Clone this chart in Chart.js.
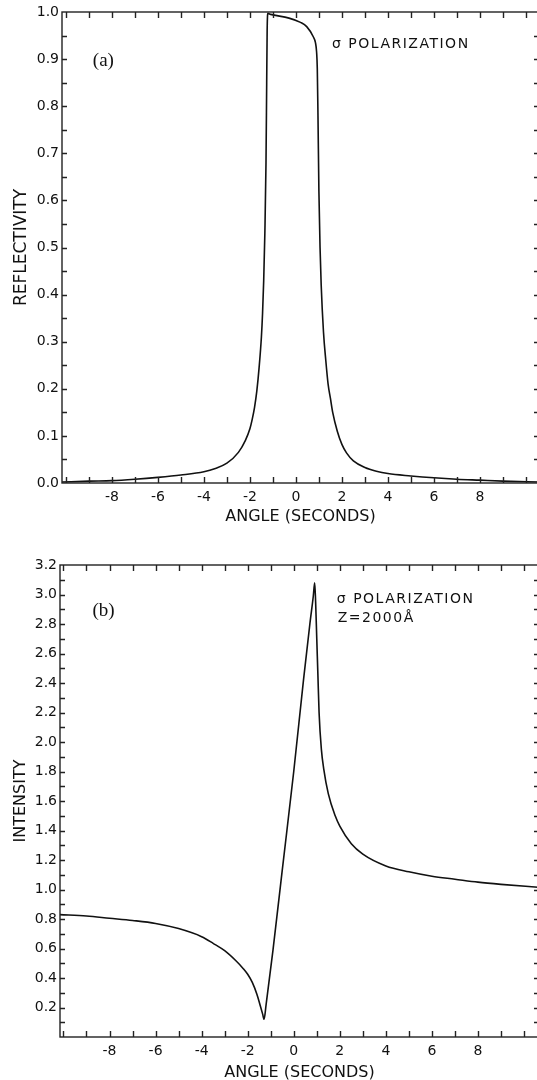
<!DOCTYPE html>
<html><head><meta charset="utf-8">
<script src="https://cdn.jsdelivr.net/npm/chart.js@4/dist/chart.umd.min.js"></script>
<style>
html,body{margin:0;padding:0;background:#fff;overflow:hidden;width:537px;height:1080px;}
#wrap{position:relative;width:537px;height:1080px;overflow:hidden;background:#fff;}
canvas{position:absolute;left:0;}
#ca{top:0;}
#cb{top:548px;}
</style></head><body>
<div id="wrap"><canvas id="ca" width="545" height="540"></canvas><canvas id="cb" width="545" height="560"></canvas></div>
<script>
// ---- data (a): reflectivity vs angle ----
const angleA=[-10.17,-9,-8,-7,-6,-5,-4,-3.5,-3,-2.5,-2.2,-2,-1.9,-1.8,-1.7,-1.6,-1.5,-1.45,-1.4,-1.35,-1.3,-1.27,-1.25,-1.22,-1.1,-0.3,0.2,0.47,0.75,0.85,0.9,0.93,0.96,1.0,1.05,1.1,1.2,1.3,1.4,1.5,1.6,1.8,2.0,2.2,2.5,3,3.5,4,5,6,7,8,9,10.57];
const reflA=[0.002,0.004,0.005,0.008,0.012,0.017,0.024,0.031,0.042,0.065,0.09,0.115,0.135,0.16,0.195,0.245,0.31,0.36,0.43,0.53,0.68,0.85,0.96,0.997,0.995,0.987,0.978,0.969,0.948,0.935,0.915,0.88,0.78,0.62,0.5,0.42,0.32,0.26,0.21,0.18,0.15,0.11,0.082,0.064,0.047,0.033,0.025,0.02,0.015,0.011,0.008,0.006,0.004,0.002];
// ---- data (b): intensity vs angle ----
const angleB=[-10.15,-9,-8,-7,-6,-5,-4,-3.5,-3,-2.5,-2.2,-2,-1.8,-1.6,-1.45,-1.35,-1.29,-1.2,-0.9,-0.5,0,0.43,0.7,0.85,0.91,0.95,1.0,1.05,1.1,1.2,1.3,1.5,1.8,2,2.5,3,4,5,6,7,8,9,10.6];
const intensB=[0.83,0.82,0.805,0.79,0.77,0.735,0.68,0.635,0.585,0.515,0.465,0.425,0.37,0.29,0.21,0.155,0.12,0.22,0.59,1.13,1.8,2.43,2.8,2.99,3.08,2.95,2.7,2.45,2.2,1.95,1.82,1.65,1.5,1.43,1.31,1.24,1.16,1.12,1.09,1.07,1.05,1.035,1.015];
// ---- tick labels ----
const xTickLabels=[-8,-6,-4,-2,0,2,4,6,8];
const yTicksA=[0,0.1,0.2,0.3,0.4,0.5,0.6,0.7,0.8,0.9,1.0];
const yTicksB=[0.2,0.4,0.6,0.8,1.0,1.2,1.4,1.6,1.8,2.0,2.2,2.4,2.6,2.8,3.0,3.2];

const INK='#111';
const FAM='"DejaVu Sans", sans-serif';

const framePlugin={id:'frame',afterDatasetsDraw(chart,args,opts){
  const {ctx,chartArea:a,scales:{x,y}}=chart;
  ctx.save();
  ctx.strokeStyle='#222';ctx.lineWidth=1.4;
  ctx.strokeRect(a.left,a.top,a.right-a.left,a.bottom-a.top);
  ctx.beginPath();
  for(let v=Math.ceil(x.min);v<=Math.floor(x.max);v++){
    const px=Math.round(x.getPixelForValue(v))+0.5;
    ctx.moveTo(px,a.bottom);ctx.lineTo(px,a.bottom-6);
    ctx.moveTo(px,a.top);ctx.lineTo(px,a.top+6);
  }
  const n=Math.round((y.max-y.min)/opts.minor);
  for(let i=1;i<n;i++){
    const py=Math.round(y.getPixelForValue(y.min+i*opts.minor))+0.5;
    ctx.moveTo(a.left,py);ctx.lineTo(a.left+5,py);
    ctx.moveTo(a.right,py);ctx.lineTo(a.right-5,py);
  }
  ctx.stroke();
  ctx.fillStyle=INK;ctx.textBaseline='middle';ctx.textAlign='left';
  (opts.texts||[]).forEach(t=>{
    ctx.font=t.font;ctx.letterSpacing=t.ls||'0px';
    ctx.fillText(t.text,x.getPixelForValue(t.x),y.getPixelForValue(t.y));
  });
  ctx.restore();
}};

function makeChart(id,xs,ys,cfg){
  return new Chart(document.getElementById(id),{
    type:'scatter',
    data:{datasets:[{data:xs.map((v,i)=>({x:v,y:ys[i]})),showLine:true,borderColor:INK,borderWidth:1.6,pointRadius:0,cubicInterpolationMode:'monotone',fill:false}]},
    options:{
      responsive:false,animation:false,devicePixelRatio:1,
      layout:{padding:{top:cfg.padTop,right:6,left:0,bottom:0}},
      plugins:{legend:{display:false},tooltip:{enabled:false},frame:{minor:cfg.minor,texts:cfg.texts}},
      scales:{
        x:{type:'linear',min:cfg.xmin,max:cfg.xmax,
          afterBuildTicks:s=>{s.ticks=xTickLabels.map(v=>({value:v}));},
          afterFit:s=>{s.height=cfg.xh;},
          grid:{display:false,drawTicks:false},border:{display:false},
          ticks:{padding:6,color:INK,autoSkip:false,maxRotation:0,font:{family:FAM,size:14},callback:v=>String(v)},
          title:{display:true,text:'ANGLE (SECONDS)',color:INK,font:{family:FAM,size:16},padding:{top:0,bottom:cfg.xtpad}}},
        y:{type:'linear',min:cfg.ymin,max:cfg.ymax,
          afterBuildTicks:s=>{s.ticks=cfg.yticks.map(v=>({value:v}));},
          afterFit:s=>{s.width=cfg.yw;},
          grid:{display:false,drawTicks:false},border:{display:false},
          ticks:{padding:3,color:INK,autoSkip:false,font:{family:FAM,size:14},callback:v=>v.toFixed(1)},
          title:{display:true,text:cfg.ytitle,color:INK,font:{family:FAM,size:cfg.ytsize},padding:{top:11,bottom:0}}}
      }
    },
    plugins:[framePlugin]
  });
}

makeChart('ca',angleA,reflA,{padTop:12,xh:57,xtpad:13.4,yw:62,xmin:-10.17,xmax:10.57,ymin:0,ymax:1,minor:0.05,yticks:yTicksA,ytitle:'REFLECTIVITY',ytsize:17,
  texts:[{text:'(a)',x:-8.83,y:0.896,font:'19px "Liberation Serif", serif'},
         {text:'σ POLARIZATION',x:1.57,y:0.932,font:'14px '+FAM,ls:'1.5px'}]});
makeChart('cb',angleB,intensB,{padTop:17,xh:71,xtpad:25.4,yw:60,xmin:-10.15,xmax:10.65,ymin:0,ymax:3.2,minor:0.1,yticks:yTicksB,ytitle:'INTENSITY',ytsize:16,
  texts:[{text:'(b)',x:-8.74,y:2.89,font:'19px "Liberation Serif", serif'},
         {text:'σ POLARIZATION',x:1.87,y:2.97,font:'14px '+FAM,ls:'1.5px'},
         {text:'Z=2000Å',x:1.91,y:2.84,font:'14px '+FAM,ls:'1.5px'}]});
</script>
</body></html>
